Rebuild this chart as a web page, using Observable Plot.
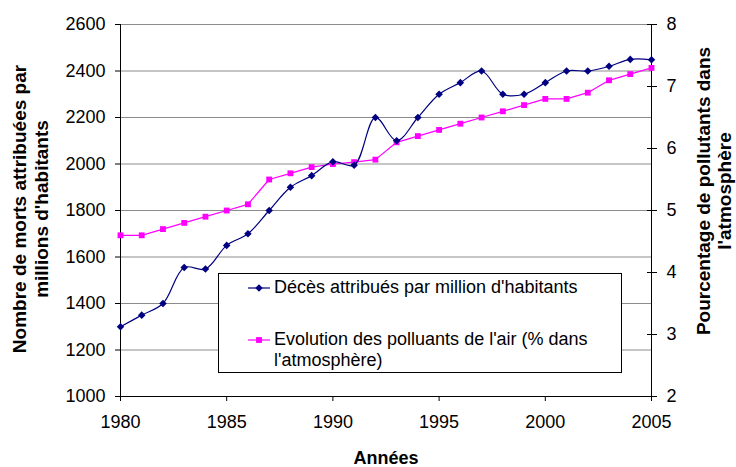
<!DOCTYPE html>
<html>
<head>
<meta charset="utf-8">
<script src="https://cdn.jsdelivr.net/npm/d3@7"></script>
<script src="https://cdn.jsdelivr.net/npm/@observablehq/plot@0.6"></script>
<style>
  html, body { margin: 0; padding: 0; background: #fff; }
  #chart { position: relative; width: 736px; height: 467px; }
</style>
</head>
<body>
<div id="chart"></div>
<script>
const years = [1980,1981,1982,1983,1984,1985,1986,1987,1988,1989,1990,1991,1992,1993,1994,1995,1996,1997,1998,1999,2000,2001,2002,2003,2004,2005];
const deaths = [1300,1350,1400,1555,1548,1650,1700,1800,1900,1950,2010,1995,2200,2100,2200,2300,2350,2400,2300,2300,2350,2400,2400,2420,2450,2448];
const pollutants = [4.6,4.6,4.7,4.8,4.9,5.0,5.1,5.5,5.6,5.7,5.75,5.78,5.82,6.1,6.2,6.3,6.4,6.5,6.6,6.7,6.8,6.8,6.9,7.1,7.2,7.3];
const leftTicks = [1000,1200,1400,1600,1800,2000,2200,2400,2600];
const rightTicks = [2,3,4,5,6,7,8];
const xTicks = [1980,1985,1990,1995,2000,2005];
const seriesNames = ["Décès attribués par million d'habitants", "Evolution des polluants de l'air (% dans", "l'atmosphère)"];
const leftTitle = ["Nombre de morts attribuées par", "millions d'habitants"];
const rightTitle = ["Pourcentage de pollutants dans", "l'atmosphère"];
const xTitle = "Années";

const leftDomain = [1000, 2600];
const rightDomain = [2, 8];
const toLeft = v => leftDomain[0] + (v - rightDomain[0]) * (leftDomain[1] - leftDomain[0]) / (rightDomain[1] - rightDomain[0]);
const fromLeft = d => Math.round(rightDomain[0] + (d - leftDomain[0]) * (rightDomain[1] - rightDomain[0]) / (leftDomain[1] - leftDomain[0]));

const dDeaths = years.map((y, i) => ({year: y, value: deaths[i]}));
const dPoll = years.map((y, i) => ({year: y, value: toLeft(pollutants[i])}));

const navy = "#000080", magenta = "#FF00FF";
const font = "'Liberation Sans', Arial, sans-serif";

const chart = Plot.plot({
  width: 736, height: 467,
  marginLeft: 120, marginRight: 85, marginTop: 24, marginBottom: 71,
  x: {domain: [1980, 2005]},
  y: {domain: leftDomain},
  style: {fontFamily: font, fontSize: "18px", color: "#000", background: "#fff", overflow: "visible"},
  marks: [
    Plot.gridY({ticks: leftTicks, stroke: "#8c8c8c", strokeOpacity: 1}),
    Plot.axisY({ticks: leftTicks, tickSize: 5, tickPadding: 10, label: null, tickFormat: d => String(d)}),
    Plot.axisY({anchor: "right", ticks: rightTicks.map(toLeft), tickSize: 5, tickPadding: 10, label: null, tickFormat: d => String(fromLeft(d))}),
    Plot.axisY({anchor: "right", ticks: rightTicks.map(toLeft), tickSize: 5, dx: -5, fill: "none", label: null}),
    Plot.axisX({ticks: xTicks, tickSize: 5, tickPadding: 14, label: null, tickFormat: d => String(d)}),
    Plot.ruleY([leftDomain[0]], {stroke: "#000"}),
    Plot.ruleX([1980], {stroke: "#000"}),
    Plot.ruleX([2005], {stroke: "#000"}),
    Plot.line(dPoll, {x: "year", y: "value", stroke: magenta, strokeWidth: 1.2}),
    Plot.dot(dPoll, {x: "year", y: "value", symbol: "square", r: 3.3, fill: magenta, stroke: "none"}),
    Plot.line(dDeaths, {x: "year", y: "value", stroke: navy, strokeWidth: 1.2, curve: "catmull-rom"}),
    Plot.dot(dDeaths, {x: "year", y: "value", symbol: "diamond2", r: 3.4, fill: navy, stroke: "none"})
  ]
});

document.getElementById("chart").appendChild(chart);

const svg = d3.select(chart);
const g = svg.append("g").attr("font-family", font).attr("fill", "#000");

// Axis titles
g.append("text").attr("transform", "translate(386,459)").attr("text-anchor", "middle")
  .attr("dominant-baseline", "middle").attr("font-size", 18).attr("font-weight", "bold").text(xTitle);
leftTitle.forEach((t, i) => {
  g.append("text").attr("transform", `translate(${21 + i * 22},209) rotate(-90)`)
    .attr("text-anchor", "middle").attr("dominant-baseline", "middle")
    .attr("font-size", 19).attr("font-weight", "bold").text(t);
});
rightTitle.forEach((t, i) => {
  g.append("text").attr("transform", `translate(${705 + i * 21},191) rotate(-90)`)
    .attr("text-anchor", "middle").attr("dominant-baseline", "middle")
    .attr("font-size", 19).attr("font-weight", "bold").text(t);
});

// Legend
const lg = svg.append("g").attr("font-family", font).attr("text-anchor", "start");
lg.append("rect").attr("x", 218.5).attr("y", 273.5).attr("width", 403).attr("height", 99)
  .attr("fill", "#fff").attr("stroke", "#000").attr("stroke-width", 1);
const entries = [
  {color: navy, sym: d3.symbolDiamond2, size: 3.4 * 3.4 * Math.PI, cy: 288, lines: [seriesNames[0]]},
  {color: magenta, sym: d3.symbolSquare, size: 3.3 * 3.3 * Math.PI, cy: 340, lines: [seriesNames[1], seriesNames[2]]}
];
entries.forEach(e => {
  lg.append("line").attr("x1", 248).attr("x2", 270).attr("y1", e.cy).attr("y2", e.cy)
    .attr("stroke", e.color).attr("stroke-width", 1.2);
  lg.append("path").attr("d", d3.symbol(e.sym, e.size)()).attr("transform", `translate(259,${e.cy})`).attr("fill", e.color);
  e.lines.forEach((t, i) => {
    lg.append("text").attr("x", 274).attr("y", e.cy + i * 21).attr("dominant-baseline", "middle")
      .attr("text-anchor", "start").attr("font-size", 18).attr("fill", "#000").text(t);
  });
});
</script>
</body>
</html>
